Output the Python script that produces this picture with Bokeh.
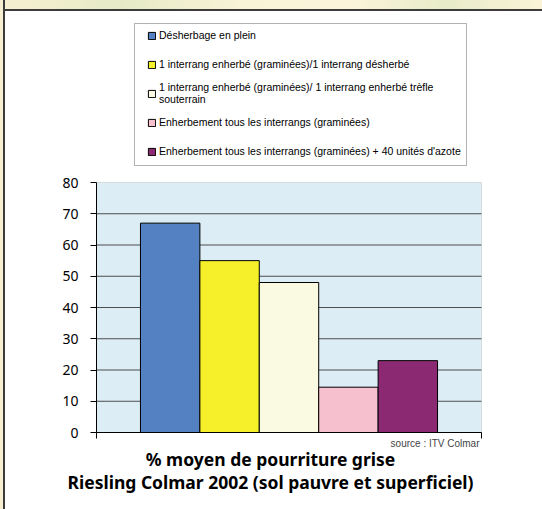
from bokeh.plotting import figure
from bokeh.models import (Range1d, FixedTicker, Legend, LegendItem, Label,
                          LinearAxis, BoxAnnotation, CustomJSTickFormatter)
from bokeh.embed import file_html
from bokeh.resources import INLINE

# ---- data ----
labels = [
    "Désherbage en plein",
    "1 interrang enherbé (graminées)/1 interrang désherbé",
    "1 interrang enherbé (graminées)/ 1 interrang enherbé trèfle\nsouterrain",
    "Enherbement tous les interrangs (graminées)",
    "Enherbement tous les interrangs (graminées) + 40 unités d'azote",
]
values = [67, 55, 48, 14.5, 23]
colors = ["#5381C1", "#F5F02A", "#FAF9E1", "#F7C0CF", "#8B2A72"]
y_ticks = [0, 10, 20, 30, 40, 50, 60, 70, 80]
title_line1 = "% moyen de pourriture grise"
title_line2 = "Riesling Colmar 2002 (sol pauvre et superficiel)"
source_note = "source : ITV Colmar"

# plot-area limits in data units
X0, X1 = -1.24, 5.24
Y0, Y1 = 0, 80

W, H = 542, 509
band_bg = ("linear-gradient(#3C3C3C, #3C3C3C) 0 9px / 100% 2px no-repeat, "
           "linear-gradient(90deg, #F7F0D2 0%, #E6EBC6 22%, #F9F3D8 45%, "
           "#FBF4DA 65%, #E8ECC9 82%, #FAF3D8 100%) 0 0 / 100% 9px no-repeat, white")
p = figure(width=W, height=H, output_backend="svg", toolbar_location=None,
           title=None, x_axis_type=None, y_axis_type=None,
           x_range=Range1d(-2.0479, 6.2667), y_range=Range1d(-24.64, 134.4),
           min_border_left=48, min_border_right=0,
           min_border_top=12, min_border_bottom=0,
           background_fill_color="white", border_fill_color="white",
           border_fill_alpha=0.0, outline_line_color=None,
           styles={"background": band_bg, "overflow": "hidden",
                   "box-shadow": "inset 3px 0 0 #F5EFCF, inset 5px 0 0 #3C3C3C"})
p.xgrid.visible = False
p.ygrid.visible = False

# plot area background
p.add_layout(BoxAnnotation(left=X0, right=X1, bottom=Y0, top=Y1,
                           fill_color="#DCEDF6", fill_alpha=1.0,
                           line_color="#A0A0A0", line_width=1,
                           level="underlay"))
# horizontal grid lines from the tick list
grid_ticks = y_ticks[1:-1]
p.segment(x0=[X0] * len(grid_ticks), x1=[X1] * len(grid_ticks),
          y0=grid_ticks, y1=grid_ticks, line_color="#4D4D4D",
          line_width=1)

renderers = []
for i, (v, c) in enumerate(zip(values, colors)):
    r = p.vbar(x=[i], top=[v], bottom=0, width=1.0, fill_color=c,
               line_color="black", line_width=1)
    renderers.append(r)

# y axis
yax = LinearAxis(fixed_location=X0, bounds=(Y0, Y1),
                 ticker=FixedTicker(ticks=y_ticks))
yax.major_tick_out = 6
yax.major_tick_in = 0
yax.minor_tick_line_color = None
yax.axis_line_color = "black"
yax.major_tick_line_color = "black"
yax.major_label_text_font = "Noto Sans"
yax.major_label_text_font_size = "14px"
yax.major_label_text_color = "black"
yax.major_label_standoff = 12
p.add_layout(yax, "left")

# x axis (no labels, end ticks only)
xax = LinearAxis(fixed_location=Y0, bounds=(X0, X1),
                 ticker=FixedTicker(ticks=[X0, X1]),
                 formatter=CustomJSTickFormatter(code="return ''"))
xax.major_tick_out = 0
xax.major_tick_in = 6
xax.minor_tick_line_color = None
xax.axis_line_color = "black"
xax.major_tick_line_color = "black"
xax.major_label_standoff = 0
p.add_layout(xax, "above")

# legend frame
p.add_layout(BoxAnnotation(left=-0.6004, right=4.9875, bottom=85.44, top=130.88,
                           fill_color="white", fill_alpha=1.0,
                           line_color="black", line_width=1))

legend = Legend(
    items=[LegendItem(label=l, renderers=[r]) for l, r in zip(labels, renderers)],
    location=(99, 346), orientation="vertical",
    padding=0, spacing=5, margin=0,
    glyph_width=9, glyph_height=9, label_height=24, label_standoff=3,
    label_text_font="Liberation Sans", label_text_font_size="10.5px",
    label_text_color="black",
    border_line_color=None, background_fill_alpha=0.0,
)
p.add_layout(legend)

p.add_layout(Label(x=222, y=39, x_units="screen", y_units="screen",
                   text=title_line1, text_align="center",
                   text_font="Noto Sans", text_font_style="bold",
                   text_font_size="17.5px", text_color="black"))
p.add_layout(Label(x=222, y=16, x_units="screen", y_units="screen",
                   text=title_line2, text_align="center",
                   text_font="Noto Sans", text_font_style="bold",
                   text_font_size="17.5px", text_color="black"))
p.add_layout(Label(x=431, y=61, x_units="screen", y_units="screen",
                   text=source_note, text_align="right",
                   text_font="Liberation Sans",
                   text_font_size="10px", text_color="#444444"))

open("out.html", "w").write(file_html(p, INLINE))
